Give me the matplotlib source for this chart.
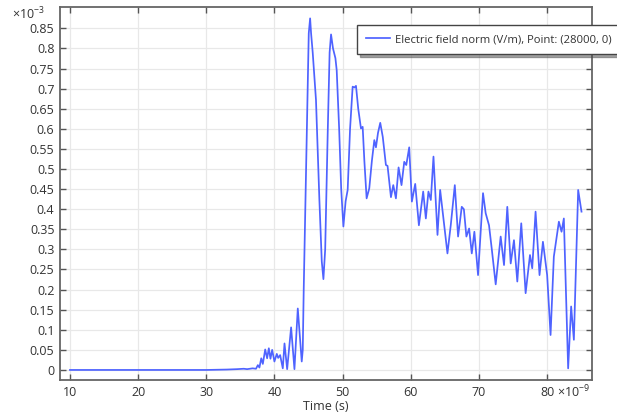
import matplotlib
matplotlib.use('Agg')
import matplotlib.pyplot as plt
from matplotlib.ticker import FixedLocator, FuncFormatter

plt.rcParams['font.family'] = ['Open Sans', 'DejaVu Sans']
plt.rcParams['mathtext.fontset'] = 'custom'
plt.rcParams['mathtext.rm'] = 'Open Sans'

# time in ns, field norm in 1e-3 V/m
t_ns = [10.0, 20.0, 30.0, 33.0, 34.5, 35.5, 36.0, 36.8, 37.3, 37.57, 37.8,
        38.07, 38.3, 38.65, 38.93, 39.18, 39.42, 39.67, 40.0, 40.35, 40.55,
        40.84, 41.23, 41.48, 41.87, 42.45, 42.94, 43.43, 44.01, 44.16, 44.3,
        44.75, 45.04, 45.24, 45.38, 45.62, 46.1, 46.6, 46.95, 47.19, 47.45,
        47.82, 48.1, 48.31, 48.6, 48.95, 49.14, 49.5, 49.8, 50.12, 50.45,
        50.75, 51.1, 51.48, 51.75, 51.97, 52.3, 52.7, 52.95, 53.2, 53.53,
        53.92, 54.3, 54.66, 54.9, 55.2, 55.53, 55.9, 56.36, 56.6, 57.1,
        57.44, 57.83, 58.22, 58.65, 59.05, 59.35, 59.78, 60.17, 60.66, 61.2,
        61.83, 62.22, 62.6, 62.95, 63.34, 63.93, 64.32, 64.8, 65.39, 65.88,
        66.47, 66.95, 67.49, 67.8, 68.17, 68.57, 68.96, 69.34, 69.88, 70.61,
        71.0, 71.49, 71.9, 72.47, 73.2, 73.69, 74.17, 74.67, 75.15, 75.64,
        76.22, 76.86, 77.5, 77.83, 78.32, 78.9, 79.4, 80.02, 80.52, 81.0,
        81.74, 82.13, 82.47, 83.1, 83.54, 83.94, 84.57, 85.06]
e_norm = [0.0, 0.0, 0.0, 0.001, 0.002, 0.003, 0.002, 0.004, 0.003, 0.012, 0.006,
          0.029, 0.015, 0.051, 0.029, 0.054, 0.028, 0.05, 0.021, 0.04, 0.03,
          0.037, 0.004, 0.066, 0.002, 0.106, 0.002, 0.153, 0.021, 0.05, 0.2,
          0.589, 0.838, 0.875, 0.838, 0.79, 0.672, 0.423, 0.27, 0.226, 0.3,
          0.589, 0.79, 0.835, 0.8, 0.776, 0.746, 0.6, 0.45, 0.357, 0.42,
          0.448, 0.6, 0.705, 0.703, 0.707, 0.65, 0.601, 0.605, 0.52, 0.427,
          0.452, 0.52, 0.572, 0.554, 0.59, 0.615, 0.58, 0.51, 0.508, 0.43,
          0.46, 0.427, 0.504, 0.46, 0.518, 0.51, 0.554, 0.419, 0.463, 0.36,
          0.444, 0.377, 0.444, 0.423, 0.531, 0.336, 0.448, 0.377, 0.29, 0.361,
          0.46, 0.332, 0.406, 0.4, 0.332, 0.352, 0.29, 0.344, 0.236, 0.44,
          0.39, 0.36, 0.3, 0.213, 0.332, 0.261, 0.406, 0.265, 0.323, 0.22,
          0.365, 0.191, 0.286, 0.253, 0.394, 0.236, 0.319, 0.236, 0.087, 0.282,
          0.369, 0.344, 0.377, 0.004, 0.158, 0.075, 0.448, 0.394]

x_ticks = [10, 20, 30, 40, 50, 60, 70, 80]
y_ticks = [i * 0.05 for i in range(18)]  # 0 .. 0.85

W, H = 617, 419
fig = plt.figure(figsize=(W / 100, H / 100), dpi=100)
ax = fig.add_axes([60 / W, 39 / H, 532 / W, 373.3 / H])

ax.plot(t_ns, e_norm, color='#4f63ff', lw=1.25,
        label='Electric field norm (V/m), Point: (28000, 0)')

ax.set_xlim(8.54, 86.6)
ax.set_ylim(-0.025, 0.904)
ax.xaxis.set_major_locator(FixedLocator(x_ticks))
ax.yaxis.set_major_locator(FixedLocator(y_ticks))
ax.yaxis.set_major_formatter(FuncFormatter(lambda v, p: '%g' % round(v, 2)))

ax.grid(True, color='#e8e8e8', lw=0.9)
ax.set_axisbelow(True)
for s in ax.spines.values():
    s.set_color('#666666')
    s.set_linewidth(1.3)
ax.tick_params(direction='in', length=4, width=1, color='#555555',
               top=True, right=True, labelsize=9, labelcolor='#333333', pad=4)

ax.set_xlabel('Time (s)', fontsize=9, color='#333333', labelpad=1)

fig.text(12 / W, 1 - 14 / H, r'$\times10^{-3}$', fontsize=9, color='#333333',
         va='center', ha='left')
fig.text(557 / W, 1 - 392 / H, r'$\times10^{-9}$', fontsize=9, color='#333333',
         va='center', ha='left')

leg = ax.legend(loc='upper left', bbox_to_anchor=(357 / W, 1 - 25 / H),
                bbox_transform=fig.transFigure, fancybox=False, shadow=True,
                fontsize=8.1, handlelength=2.1, handletextpad=0.45,
                borderpad=0.8, borderaxespad=0, framealpha=1)
leg.get_frame().set_edgecolor('#444444')
leg.get_frame().set_linewidth(1.0)
for txt in leg.get_texts():
    txt.set_color('#333333')

fig.savefig('out.png', dpi=100)
